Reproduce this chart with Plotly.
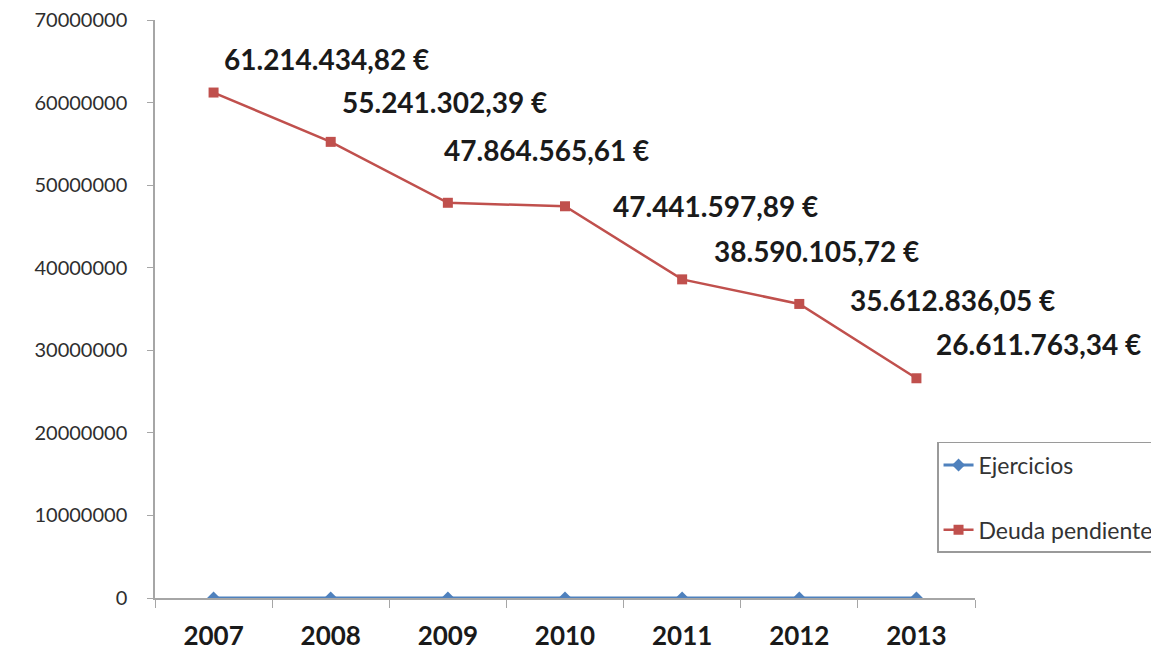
import plotly.graph_objects as go

years = ["2007", "2008", "2009", "2010", "2011", "2012", "2013"]
ejercicios = [2007, 2008, 2009, 2010, 2011, 2012, 2013]
deuda = [61214434.82, 55241302.39, 47864565.61, 47441597.89, 38590105.72, 35612836.05, 26611763.34]
y_ticks = [0, 10000000, 20000000, 30000000, 40000000, 50000000, 60000000, 70000000]

# label offsets in pixels (x shift, y shift) relative to each data point
label_shift_x = [8, 9, -6, 46, 30, 49, 18]
label_shift_y = [34, 40, 53, 0, 28, 4, 34]


def fmt_es(v):
    s = f"{v:,.2f}"
    s = s.replace(",", "X").replace(".", ",").replace("X", ".")
    return s + " €"


BLUE = "#4F81BD"
RED = "#C0504D"
FONT = "Lato"

fig = go.Figure()
fig.add_trace(go.Scatter(
    x=years, y=ejercicios, name="Ejercicios", mode="lines+markers",
    line=dict(color=BLUE, width=3),
    marker=dict(symbol="diamond", size=10, color=BLUE),
    legendgroup="a",
))
fig.add_trace(go.Scatter(
    x=years, y=deuda, name="Deuda pendiente", mode="lines+markers",
    line=dict(color=RED, width=2.5),
    marker=dict(symbol="square", size=10, color=RED),
    legendgroup="b",
))

for i, v in enumerate(deuda):
    fig.add_annotation(
        x=i, y=v, xref="x", yref="y", text=fmt_es(v), showarrow=False,
        xanchor="left", yanchor="middle",
        xshift=label_shift_x[i], yshift=label_shift_y[i],
        font=dict(family=FONT, size=28, color="#1a1a1a", weight="bold"),
    )

fig.update_layout(
    width=1151, height=654,
    margin=dict(l=155, r=176, t=20, b=56, autoexpand=False),
    paper_bgcolor="white", plot_bgcolor="white",
    font=dict(family=FONT, color="#333333"),
    showlegend=True,
    legend=dict(
        x=0.9537, y=0.27, xanchor="left", yanchor="top",
        bordercolor="#9a9a9a", borderwidth=1.5, bgcolor="white",
        font=dict(family=FONT, size=23, color="#333333"),
        traceorder="grouped", tracegroupgap=32,
        itemwidth=30,
    ),
    xaxis=dict(
        type="category", range=[-0.5, 6.5],
        showline=True, linecolor="#a6a6a6", linewidth=1.5,
        ticks="outside", tickson="boundaries", ticklen=8, tickcolor="#a6a6a6",
        showgrid=False, zeroline=False,
        tickfont=dict(family=FONT, size=26, color="#1a1a1a", weight="bold"),
        ticklabelstandoff=14,
    ),
    yaxis=dict(
        range=[0, 70000000], tickvals=y_ticks, tickformat="d",
        showline=True, linecolor="#a6a6a6", linewidth=1.5,
        ticks="outside", ticklen=6, tickcolor="#a6a6a6",
        showgrid=False, zeroline=False,
        tickfont=dict(family=FONT, size=20, color="#2e2e2e"),
        ticklabelstandoff=16,
    ),
)

fig.write_html("out.html", config={"displayModeBar": False},
               post_script="document.body.style.margin='0';")
